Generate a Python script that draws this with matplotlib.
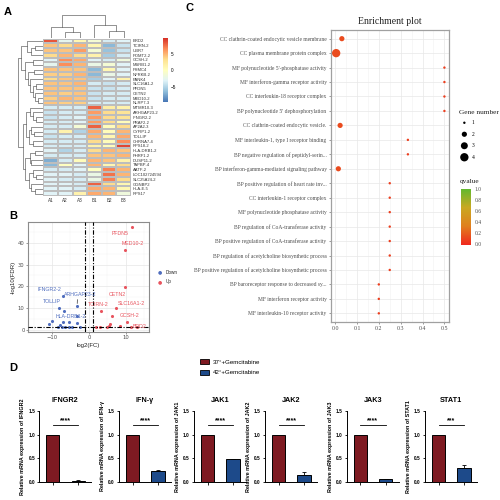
import numpy as np
import matplotlib
matplotlib.use("Agg")
import matplotlib.pyplot as plt
from matplotlib.colors import LinearSegmentedColormap, Normalize
from matplotlib.patches import Patch
from matplotlib.lines import Line2D

# ---------------- data ----------------
# Panel A heatmap
genes = ["BRD2", "TCIRN-2", "UBR7", "POMT2-2", "GCSH-2", "MSRB1-2", "PSMC4", "NFRKB-2",
         "PANK4", "SLC16A1-2", "PFDN5", "CETN2", "MED10-2", "NLRP7-3", "MTMR10-3",
         "ARHGAP23-2", "IFNGR2-2", "PRAF2-2", "AP2A2-3", "CYFIP1-2", "TOLLIP", "CHRNA7-4",
         "RPS18-2", "HLA-DRB1-2", "PHRF1-2", "DUSP11-2", "TAPBP-4", "AATF-2",
         "LOC102724594", "SLC25A24-2", "GGNBP2", "HLA-E-5", "RPS17"]
samples = ["A1", "A2", "A3", "B1", "B2", "B3"]
heat_values = [
    [8.5, -2.5, 1.0, -1.0, -3.5, -3.0],
    [4.5, 3.5, 5.0, 1.0, -6.5, -4.0],
    [4.5, 4.5, 6.0, -1.0, -6.0, -4.0],
    [3.5, 5.0, 3.5, 1.5, -5.5, -3.5],
    [-3.0, 6.5, 5.5, -3.0, -3.5, -1.5],
    [-2.5, 6.5, 5.0, -2.0, -1.0, -3.0],
    [4.5, 4.5, 4.5, -6.5, 1.0, -3.0],
    [4.0, 4.0, 5.0, -6.5, -2.0, -3.0],
    [3.5, 4.5, 4.5, -5.5, -3.0, 1.5],
    [4.5, 4.5, 5.0, -3.5, -4.0, -3.5],
    [4.5, 4.5, 4.5, -4.0, -4.0, -3.5],
    [4.5, 4.0, 4.5, -4.0, -3.5, -3.5],
    [4.0, 5.0, 4.5, -4.0, -3.5, -3.5],
    [4.5, 4.0, 4.0, -3.5, -3.5, -3.5],
    [-3.5, -3.5, -3.5, 8.0, 2.0, 1.5],
    [-4.0, -3.5, -3.5, 6.0, 3.5, 3.0],
    [-4.0, -3.5, -3.0, 6.0, 3.5, 3.0],
    [-3.5, -3.5, -3.0, 6.0, 3.5, 0.5],
    [-3.5, -3.5, -1.0, 8.0, 0.5, 3.5],
    [-3.5, 1.5, -5.0, 5.5, 0.5, 5.0],
    [-4.0, -3.5, -3.5, 5.0, 1.0, 5.5],
    [-3.5, -3.5, -3.5, 3.5, 0.5, 6.5],
    [-3.5, -3.5, -3.5, 1.5, 0.5, 9.0],
    [-3.0, -5.0, -3.5, 3.5, 5.0, 4.5],
    [-3.5, -3.5, -3.5, 4.5, 4.5, 5.0],
    [-7.0, -3.5, 0.5, 5.0, 4.5, 1.5],
    [-6.5, 0.0, -3.0, 5.0, 1.0, 3.5],
    [-3.5, -3.5, -3.0, 0.0, 7.0, 5.0],
    [-3.0, -3.0, -3.5, -2.0, 7.5, 5.0],
    [-3.0, -3.5, -3.5, -2.0, 7.0, 3.5],
    [-3.0, -3.0, -3.5, 8.0, 3.5, 1.0],
    [-3.0, -3.0, -3.5, 5.5, 5.0, 1.0],
    [-3.0, -3.0, 1.5, 5.5, 5.0, -1.5],
]
heat_ticks = [5, 0, -5]
# dendrogram trees: [height, left, right], leaves are row / column indices
row_tree_top = [0.85, [0.62, 0, [0.45, [0.3, 1, 2], 3]],
                [0.7, [0.4, 4, 5], [0.6, [0.35, 6, 7],
                                    [0.5, 8, [0.4, [0.25, 9, 10], [0.3, 11, [0.2, 12, 13]]]]]]]
row_tree_bottom = [0.8, [0.65, [0.5, 14, [0.4, 15, [0.25, 16, 17]]],
                         [0.55, [0.45, 18, [0.35, 19, 20]], [0.4, 21, 22]]],
                   [0.7, [0.5, [0.3, 23, 24], [0.45, 25, 26]],
                         [0.55, [0.4, 27, [0.25, 28, 29]], [0.45, 30, [0.3, 31, 32]]]]]
row_tree = [1.0, row_tree_top, row_tree_bottom]
col_tree = [1.0, [0.46, 0, [0.25, 1, 2]], [0.58, 3, [0.29, 4, 5]]]

# Panel B volcano
up_x = [11.6, 9.7, 9.7, 7.3, 3.4, 6.4, 10.3, 5.8, 5.5, 8.4, 11.5, 2.0, 3.0, 5.0, 13.0]
up_y = [47.0, 36.7, 19.7, 10.2, 9.0, 6.7, 3.8, 3.0, 2.0, 1.8, 1.5, 1.3, 1.4, 1.5, 1.4]
down_x = [-7.1, -3.2, -8.2, -6.8, -3.2, -10.0, -10.9, -7.1, -5.3, -3.2, -7.9, -6.5, -5.5,
          -4.5, -2.4, -7.3, -8.5]
down_y = [15.8, 10.9, 10.2, 8.6, 6.4, 4.4, 3.0, 3.8, 3.6, 3.4, 2.3, 1.5, 1.4, 1.6, 1.3,
          1.6, 1.4]
volcano_labels = ["PFDN5", "MED10-2", "CETN2", "SLC16A1-2", "TCIRN-2", "GCSH-2", "BRD2",
                  "IFNGR2-2", "ARHGAP23-2", "TOLLIP", "HLA-DRB1-2"]
volcano_label_x = [8.6, 11.8, 7.7, 11.5, 2.6, 10.9, 13.6, -10.6, -2.3, -10.0, -4.8]
volcano_label_y = [44.2, 39.4, 16.5, 12.0, 11.7, 6.7, 1.5, 18.5, 16.5, 12.9, 6.4]
volcano_label_group = ["Up"] * 7 + ["Down"] * 4

# Panel C enrichment
terms = ["CC clathrin-coated endocytic vesicle membrane",
         "CC plasma membrane protein complex",
         "MF polynucleotide 5'-phosphatase activity",
         "MF interferon-gamma receptor activity",
         "CC interleukin-18 receptor complex",
         "BP polynucleotide 5' dephosphorylation",
         "CC clathrin-coated endocytic vesicle.",
         "MF interleukin-1, type I receptor binding",
         "BP negative regulation of peptidyl-serin...",
         "BP interferon-gamma-mediated signaling pathway",
         "BP positive regulation of heart rate inv...",
         "CC interleukin-1 receptor complex",
         "MF polynucleotide phosphatase activity",
         "BP regulation of CoA-transferase activity",
         "BP positive regulation of CoA-transferase activity",
         "BP regulation of acetylcholine biosynthetic process",
         "BP positive regulation of acetylcholine biosynthetic process",
         "BP baroreceptor response to decreased sy...",
         "MF interferon receptor activity",
         "MF interleukin-10 receptor activity"]
gene_ratio = [0.031, 0.005, 0.5, 0.5, 0.5, 0.5, 0.023, 0.333, 0.333, 0.015,
              0.25, 0.25, 0.25, 0.25, 0.25, 0.25, 0.25, 0.2, 0.2, 0.2]
gene_number = [2, 4, 1, 1, 1, 1, 2, 1, 1, 2, 1, 1, 1, 1, 1, 1, 1, 1, 1, 1]
qvalue = [0.13, 0.13, 0.08, 0.08, 0.08, 0.08, 0.13, 0.08, 0.08, 0.13,
          0.08, 0.08, 0.08, 0.08, 0.08, 0.08, 0.08, 0.08, 0.08, 0.08]
size_legend = [1, 2, 3, 4]
q_ticks = [0.0, 0.2, 0.4, 0.6, 0.8, 1.0]
ratio_ticks = [0.0, 0.1, 0.2, 0.3, 0.4, 0.5]

# Panel D bar charts
targets = ["IFNGR2", "IFN-γ", "JAK1", "JAK2", "JAK3", "STAT1"]
groups = ["37°+Gemcitabine", "42°+Gemcitabine"]
expr_37 = [1.0, 1.0, 1.0, 1.0, 1.0, 1.0]
expr_42 = [0.02, 0.23, 0.48, 0.15, 0.05, 0.30]
err_42 = [0.01, 0.01, 0.01, 0.05, 0.01, 0.05]
signif = ["****", "****", "****", "****", "****", "***"]
bar_ticks = [0.0, 0.5, 1.0, 1.5]

# ---------------- figure ----------------
W = H = 500
fig = plt.figure(figsize=(5, 5), dpi=100)
fig.patch.set_facecolor("white")


def px_axes(x0, y0, x1, y1):
    return fig.add_axes([x0 / W, 1 - y1 / H, (x1 - x0) / W, (y1 - y0) / H])


def px_text(x, y, s, **kw):
    fig.text(x / W, 1 - y / H, s, **kw)


SANS = ["Liberation Sans", "DejaVu Sans"]
SERIF = ["Liberation Serif", "DejaVu Serif"]

# panel letters
for lab, (lx, ly) in zip("ABCD", [(4, 12), (9, 216), (186, 8), (9, 368)]):
    px_text(lx, ly, lab, fontsize=8, fontweight="bold", family=SANS, va="center", ha="left")

# ---------- Panel A ----------
heat_cmap = LinearSegmentedColormap.from_list(
    "pheat", ["#4575B4", "#91BFDB", "#E0F3F8", "#FFFFBF", "#FEE090", "#FC8D59", "#D73027"])
hx0, hx1, hy0, hy1 = 43.3, 131, 38.5, 196
axh = px_axes(hx0, hy0, hx1, hy1)
M = np.array(heat_values)
axh.pcolormesh(np.arange(M.shape[1] + 1), np.arange(M.shape[0] + 1), M, cmap=heat_cmap,
               vmin=-9.5, vmax=9.8, edgecolors="#BDBDBD", linewidth=0.15)
axh.set_xlim(0, M.shape[1])
axh.set_ylim(M.shape[0], 0)
axh.set_xticks(np.arange(M.shape[1]) + 0.5)
axh.set_xticklabels(samples, fontsize=3.3, family=SANS, color="#333333")
axh.set_yticks(np.arange(M.shape[0]) + 0.5)
axh.set_yticklabels(genes, fontsize=3.0, family=SANS, color="#333333")
axh.yaxis.tick_right()
axh.tick_params(length=0, pad=1.2)
for s in axh.spines.values():
    s.set_visible(False)


def draw_tree(ax, node, orient):
    if isinstance(node, int):
        return node + 0.5, 0.0
    h, left, right = node
    pl, hl = draw_tree(ax, left, orient)
    pr, hr = draw_tree(ax, right, orient)
    if orient == "left":
        ax.plot([hl, h, h, hr], [pl, pl, pr, pr], color="#555555", lw=0.45)
    else:
        ax.plot([pl, pl, pr, pr], [hl, h, h, hr], color="#555555", lw=0.45)
    return (pl + pr) / 2, h


axrd = px_axes(17, hy0, hx0 - 0.5, hy1)
draw_tree(axrd, row_tree, "left")
axrd.set_xlim(1.02, 0)
axrd.set_ylim(M.shape[0], 0)
axrd.axis("off")

axcd = px_axes(hx0, 14.5, hx1, hy0 - 0.5)
draw_tree(axcd, col_tree, "top")
axcd.set_xlim(0, M.shape[1])
axcd.set_ylim(0, 1.02)
axcd.axis("off")

axcb = px_axes(163, 38, 168, 102)
cb = fig.colorbar(plt.cm.ScalarMappable(norm=Normalize(-9.5, 9.8), cmap=heat_cmap),
                  cax=axcb, ticks=heat_ticks)
cb.outline.set_visible(False)
cb.ax.tick_params(labelsize=3.3, length=0, pad=2)
for t in cb.ax.get_yticklabels():
    t.set_family(SANS)

# ---------- Panel B ----------
UPC, DOWNC = "#E8545E", "#4F6DBE"
axv = px_axes(28, 222, 149, 332)
axv.set_facecolor("white")
axv.set_xlim(-16.5, 16.3)
axv.set_ylim(-0.8, 49.4)
axv.set_xticks([-10, 0, 10])
axv.set_yticks([0, 10, 20, 30, 40])
axv.set_xticks([-15, -5, 5, 15], minor=True)
axv.set_yticks([5, 15, 25, 35, 45], minor=True)
axv.grid(True, which="major", color="#E6E6E6", lw=0.5)
axv.grid(True, which="minor", color="#F2F2F2", lw=0.3)
axv.set_axisbelow(True)
for s in axv.spines.values():
    s.set_color("#8C8C8C")
    s.set_linewidth(0.8)
axv.tick_params(labelsize=3.8, colors="#4D4D4D", length=1.5, width=0.4, pad=1)
axv.tick_params(which="minor", length=0)
axv.scatter(down_x, down_y, s=5, color=DOWNC, lw=0, zorder=3)
axv.scatter(up_x, up_y, s=5, color=UPC, lw=0, zorder=3)
for xv in (-1, 1):
    axv.axvline(xv, color="black", lw=0.8, ls=(0, (4, 1.5, 1, 1.5)), zorder=4)
axv.axhline(-np.log10(0.05), color="black", lw=0.8, ls=(0, (4, 1.5, 1, 1.5)), zorder=4)
for lab, lx, ly, g in zip(volcano_labels, volcano_label_x, volcano_label_y, volcano_label_group):
    axv.text(lx, ly, lab, fontsize=3.8, color=UPC if g == "Up" else DOWNC,
             ha="center", va="center", family=SANS, zorder=5)
# segment for ARHGAP23-2
ai = volcano_labels.index("ARHGAP23-2")
axv.annotate("", xy=(down_x[1], down_y[1]), xytext=(volcano_label_x[ai] - 0.8, volcano_label_y[ai] - 1.2),
             arrowprops=dict(arrowstyle="-", color="black", lw=0.4))
axv.set_xlabel("log2(FC)", fontsize=4.3, color="#222222", labelpad=1.5, family=SANS)
axv.set_ylabel("-log10(FDR)", fontsize=4.3, color="#222222", labelpad=1.5, family=SANS)
# legend
px_text(160, 272, "\u25CF", fontsize=3.5, color=DOWNC, ha="center", va="center")
px_text(160, 282, "\u25CF", fontsize=3.5, color=UPC, ha="center", va="center")
px_text(166, 272, "Down", fontsize=3.3, color="#222222", ha="left", va="center", family=SANS)
px_text(166, 282, "Up", fontsize=3.3, color="#222222", ha="left", va="center", family=SANS)

# ---------- Panel C ----------
q_cmap = LinearSegmentedColormap.from_list("q", ["#F02A1E", "#E0801E", "#C9A821", "#62B82E"])
axe = px_axes(330.7, 30, 449, 322)
n = len(terms)
yy = np.arange(n)
sizes = [3 + 11 * (g - 1) for g in gene_number]
axe.scatter(gene_ratio, yy, s=sizes, c=qvalue, cmap=q_cmap, vmin=0, vmax=1, lw=0, zorder=3)
axe.set_xlim(-0.02, 0.521)
axe.set_ylim(n - 1 + 0.6, -0.6)
axe.set_yticks(yy)
axe.set_yticklabels(terms, fontsize=4.0, family=SERIF, color="#4D4D4D")
axe.set_xticks(ratio_ticks)
axe.set_xticklabels([f"{t:.1f}" for t in ratio_ticks], fontsize=4.2, family=SERIF, color="#4D4D4D")
axe.set_xticks([0.05, 0.15, 0.25, 0.35, 0.45], minor=True)
axe.grid(True, which="major", color="#E8E8E8", lw=0.5)
axe.grid(True, which="minor", axis="x", color="#F2F2F2", lw=0.4)
axe.set_axisbelow(True)
axe.tick_params(length=1.5, width=0.4, color="#4D4D4D", pad=1.5)
axe.tick_params(which="minor", length=0)
for s in axe.spines.values():
    s.set_color("#A0A0A0")
    s.set_linewidth(0.9)
px_text(390, 22, "Enrichment plot", fontsize=7, family=SERIF, ha="center", va="center",
        color="#222222")
# size legend
px_text(459, 112, "Gene number", fontsize=5.3, family=SERIF, ha="left", va="center", color="#222222")
axsl = px_axes(458, 117, 485, 163)
axsl.scatter([0] * len(size_legend), np.arange(len(size_legend)),
             s=[3 + 11 * (g - 1) for g in size_legend], color="black", lw=0)
for i, g in enumerate(size_legend):
    axsl.text(0.9, i, str(g), fontsize=4.0, family=SERIF, va="center", ha="left")
axsl.set_xlim(-0.8, 2.6)
axsl.set_ylim(len(size_legend) - 0.5, -0.5)
axsl.axis("off")
# qvalue colorbar
px_text(459.5, 181, "qvalue", fontsize=5.3, family=SERIF, ha="left", va="center", color="#222222")
axqc = px_axes(460.5, 189, 470.5, 244.5)
cbq = fig.colorbar(plt.cm.ScalarMappable(norm=Normalize(0, 1), cmap=q_cmap), cax=axqc,
                   ticks=q_ticks)
cbq.outline.set_visible(False)
cbq.ax.tick_params(labelsize=4.0, length=1.5, width=0.4, color="white", pad=1.5)
cbq.ax.set_yticklabels([f"{t:.1f}" for t in q_ticks], family=SERIF, color="#4D4D4D")

# ---------- Panel D ----------
RED, BLUE = "#7E1A22", "#1D4A8A"
fig.legend(handles=[Patch(facecolor=RED, edgecolor="black", lw=0.6),
                    Patch(facecolor=BLUE, edgecolor="black", lw=0.6)],
           labels=groups, loc="upper left", bbox_to_anchor=(198 / W, 1 - 357 / H),
           frameon=False, prop={"family": SANS, "size": 4.4}, handlelength=1.4,
           handleheight=0.7, labelspacing=0.9, handletextpad=0.6, borderaxespad=0)

spine_x = [39.3, 119, 194, 265, 346.7, 425]
for i, tgt in enumerate(targets):
    x0 = spine_x[i]
    ax = px_axes(x0, 411, x0 + 52, 481.7)
    ax.bar([0, 1], [expr_37[i], expr_42[i]], width=0.52, color=[RED, BLUE],
           edgecolor="black", lw=0.7, zorder=2)
    ax.errorbar([1], [expr_42[i]], yerr=[[0], [err_42[i]]], fmt="none", ecolor="black",
                elinewidth=0.6, capsize=1.5, capthick=0.6, zorder=1)
    ax.set_xlim(-0.53, 1.51)
    ax.set_ylim(0, 1.5)
    ax.set_yticks(bar_ticks)
    ax.set_yticklabels([f"{t:.1f}" for t in bar_ticks], fontsize=3.4, fontweight="bold",
                       family=SANS)
    ax.set_xticks([0, 1])
    ax.set_xticklabels([])
    ax.tick_params(length=1.8, width=0.6, pad=1.2)
    for s in ("top", "right"):
        ax.spines[s].set_visible(False)
    for s in ("left", "bottom"):
        ax.spines[s].set_linewidth(0.7)
    ax.plot([0, 1], [1.2, 1.2], color="black", lw=0.6, clip_on=False)
    ax.text(0.5, 1.22, signif[i], fontsize=5, fontweight="bold", ha="center", va="bottom",
            family=SANS)
    ax.text(0.5, 1.155, tgt, transform=ax.transAxes, fontsize=5.2, fontweight="bold",
            ha="center", va="center", family=SANS)
    ax.set_ylabel(f"Relative mRNA expression of {tgt}", fontsize=3.9, fontweight="bold",
                  family=SANS)
    ax.yaxis.set_label_coords(-14 / 52, 0.5)
    ax.patch.set_alpha(0)

fig.savefig("out.png", dpi=100, facecolor="white")
